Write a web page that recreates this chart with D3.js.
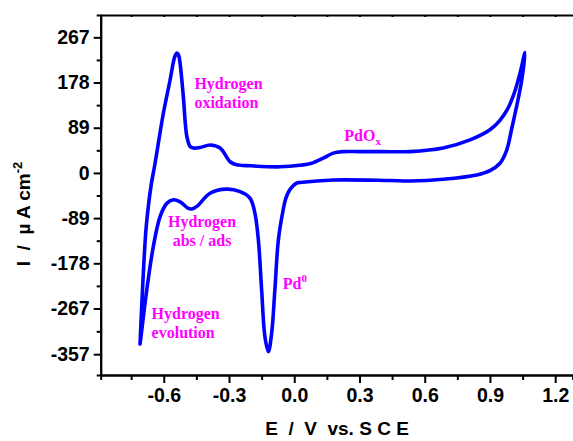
<!DOCTYPE html>
<html><head><meta charset="utf-8">
<script src="https://cdn.jsdelivr.net/npm/d3@7/dist/d3.min.js"></script>
<style>body{margin:0;background:#fff;overflow:hidden}</style>
</head><body><svg id="c" width="573" height="441"></svg>
<script>
// ---- data ----
const xTicks = [-0.6, -0.3, 0.0, 0.3, 0.6, 0.9, 1.2];
const xMinorTicks = [-0.75, -0.45, -0.15, 0.15, 0.45, 0.75, 1.05];
const yTicks = [-357, -267, -178, -89, 0, 89, 178, 267];
const yMinorTicks = [-312, -222.5, -133.5, -44.5, 44.5, 133.5, 222.5];

// anodic sweep (from -0.71 V up to 1.06 V)
const anodicE = [-0.709, -0.700, -0.683, -0.671, -0.658, -0.640, -0.621, -0.602, -0.571, -0.550, -0.540, -0.532, -0.525, -0.510, -0.494, -0.479, -0.464, -0.433, -0.387, -0.341, -0.295, -0.265, -0.200, -0.066, 0.026, 0.080, 0.133, 0.179, 0.225, 0.300, 0.400, 0.532, 0.685, 0.808, 0.900, 0.945, 0.980, 1.010, 1.038, 1.061];
const anodicI = [-337, -250, -118, -66, -24, 19, 69, 117, 183, 228, 236, 232, 216, 150, 72, 52, 49, 50, 55, 49, 22, 16, 14, 12, 15, 19, 29, 39, 42, 42, 42, 42, 49, 65, 85, 103, 125, 155, 196, 237];

// cathodic sweep (from 1.06 V back to -0.71 V)
const cathodicE = [1.045, 1.019, 0.999, 0.977, 0.946, 0.900, 0.839, 0.685, 0.532, 0.440, 0.179, 0.026, 0.011, -0.020, -0.038, -0.051, -0.073, -0.089, -0.104, -0.119, -0.135, -0.150, -0.165, -0.181, -0.203, -0.249, -0.311, -0.387, -0.448, -0.470, -0.487, -0.525, -0.556, -0.586, -0.617, -0.648, -0.678, -0.701, -0.709];
const cathodicI = [180, 124, 85, 45, 19, 4.5, -4, -12.4, -15.8, -15, -14, -19, -20, -33, -49, -73, -132, -230, -316, -352, -322, -230, -132, -79, -50, -37, -32, -40, -66, -71, -70, -57, -53, -60, -86, -145, -230, -309, -337];

// annotations (data coordinates)
const labelTexts = ["Hydrogen", "oxidation", "Hydrogen", "abs / ads", "Hydrogen", "evolution"];
const labelE = [-0.459, -0.459, -0.424, -0.424, -0.656, -0.656];
const labelI = [166, 127, -107, -144, -288, -325];
const labelAnchor = ["start", "start", "middle", "middle", "start", "start"];

// ---- drawing ----
const svg = d3.select("#c");
const x = d3.scaleLinear().domain([-0.89, 1.28]).range([100.7, 572.6]);
const y = d3.scaleLinear().domain([-398, 311]).range([375, 15]);

const tickFont = "Arial, 'Liberation Sans', sans-serif";

function styleAxis(g) {
  g.selectAll("path.domain").attr("stroke", "#000").attr("stroke-width", 2);
  g.selectAll(".tick line").attr("stroke", "#000").attr("stroke-width", 2);
  g.selectAll(".tick text").attr("font-family", tickFont).attr("font-weight", "bold")
    .attr("font-size", "19.5px").attr("fill", "#000");
}

// minor ticks
svg.append("g").attr("transform", `translate(0,375)`)
  .call(d3.axisBottom(x).tickValues(xMinorTicks).tickSize(5).tickFormat(""))
  .call(styleAxis);
svg.append("g").attr("transform", `translate(100.7,0)`)
  .call(d3.axisLeft(y).tickValues(yMinorTicks).tickSize(4).tickFormat(""))
  .call(styleAxis);
// top border with small inward ticks
svg.append("g").attr("transform", `translate(0,15)`)
  .call(d3.axisTop(x).tickValues(xTicks.concat(xMinorTicks)).tickSizeInner(-2).tickSizeOuter(0).tickFormat(""))
  .call(styleAxis);

// major axes
svg.append("g").attr("transform", `translate(0,375)`)
  .call(d3.axisBottom(x).tickValues(xTicks).tickSizeInner(8).tickSizeOuter(0).tickPadding(5).tickFormat(d => d.toFixed(1)))
  .call(styleAxis);
svg.append("g").attr("transform", `translate(100.7,0)`)
  .call(d3.axisLeft(y).tickValues(yTicks).tickSizeInner(7).tickSizeOuter(0).tickPadding(4).tickFormat(d => String(d)))
  .call(styleAxis);

// curve
const pts = anodicE.map((e, i) => [e, anodicI[i]])
  .concat(cathodicE.map((e, i) => [e, cathodicI[i]]));
const line = d3.line().x(d => x(d[0])).y(d => y(d[1])).curve(d3.curveCatmullRom.alpha(0.5));
svg.append("path").datum(pts).attr("d", line)
  .attr("fill", "none").attr("stroke", "#0000FF").attr("stroke-width", 3.6)
  .attr("stroke-linejoin", "round").attr("stroke-linecap", "round");

// annotations
const annFont = "'Times New Roman', 'Liberation Serif', serif";
const ann = svg.append("g").attr("font-family", annFont).attr("font-weight", "bold")
  .attr("font-size", "16px").attr("fill", "#FF00FF");
labelTexts.forEach((t, i) => {
  ann.append("text").attr("x", x(labelE[i])).attr("y", y(labelI[i]))
    .attr("text-anchor", labelAnchor[i]).text(t);
});
const pd0 = ann.append("text").attr("x", x(-0.053)).attr("y", y(-229));
pd0.append("tspan").text("Pd");
pd0.append("tspan").attr("font-size", "11px").attr("dy", -7).text("0");
const pdox = ann.append("text").attr("x", x(0.230)).attr("y", y(63.5));
pdox.append("tspan").text("PdO");
pdox.append("tspan").attr("font-size", "11px").attr("dy", 4).text("x");

// axis titles
svg.append("text").attr("x", 337).attr("y", 435).attr("text-anchor", "middle")
  .attr("font-family", tickFont).attr("font-weight", "bold").attr("font-size", "19px")
  .style("white-space", "pre").text("E  /  V  vs. S C E");
const yl = svg.append("text").attr("transform", "translate(30,214) rotate(-90)")
  .attr("text-anchor", "middle").attr("font-family", tickFont).attr("font-weight", "bold")
  .attr("font-size", "19px").style("white-space", "pre");
yl.append("tspan").text("I  /  µ A cm");
yl.append("tspan").attr("font-size", "13px").attr("dy", -8).text("-2");
</script></body></html>
